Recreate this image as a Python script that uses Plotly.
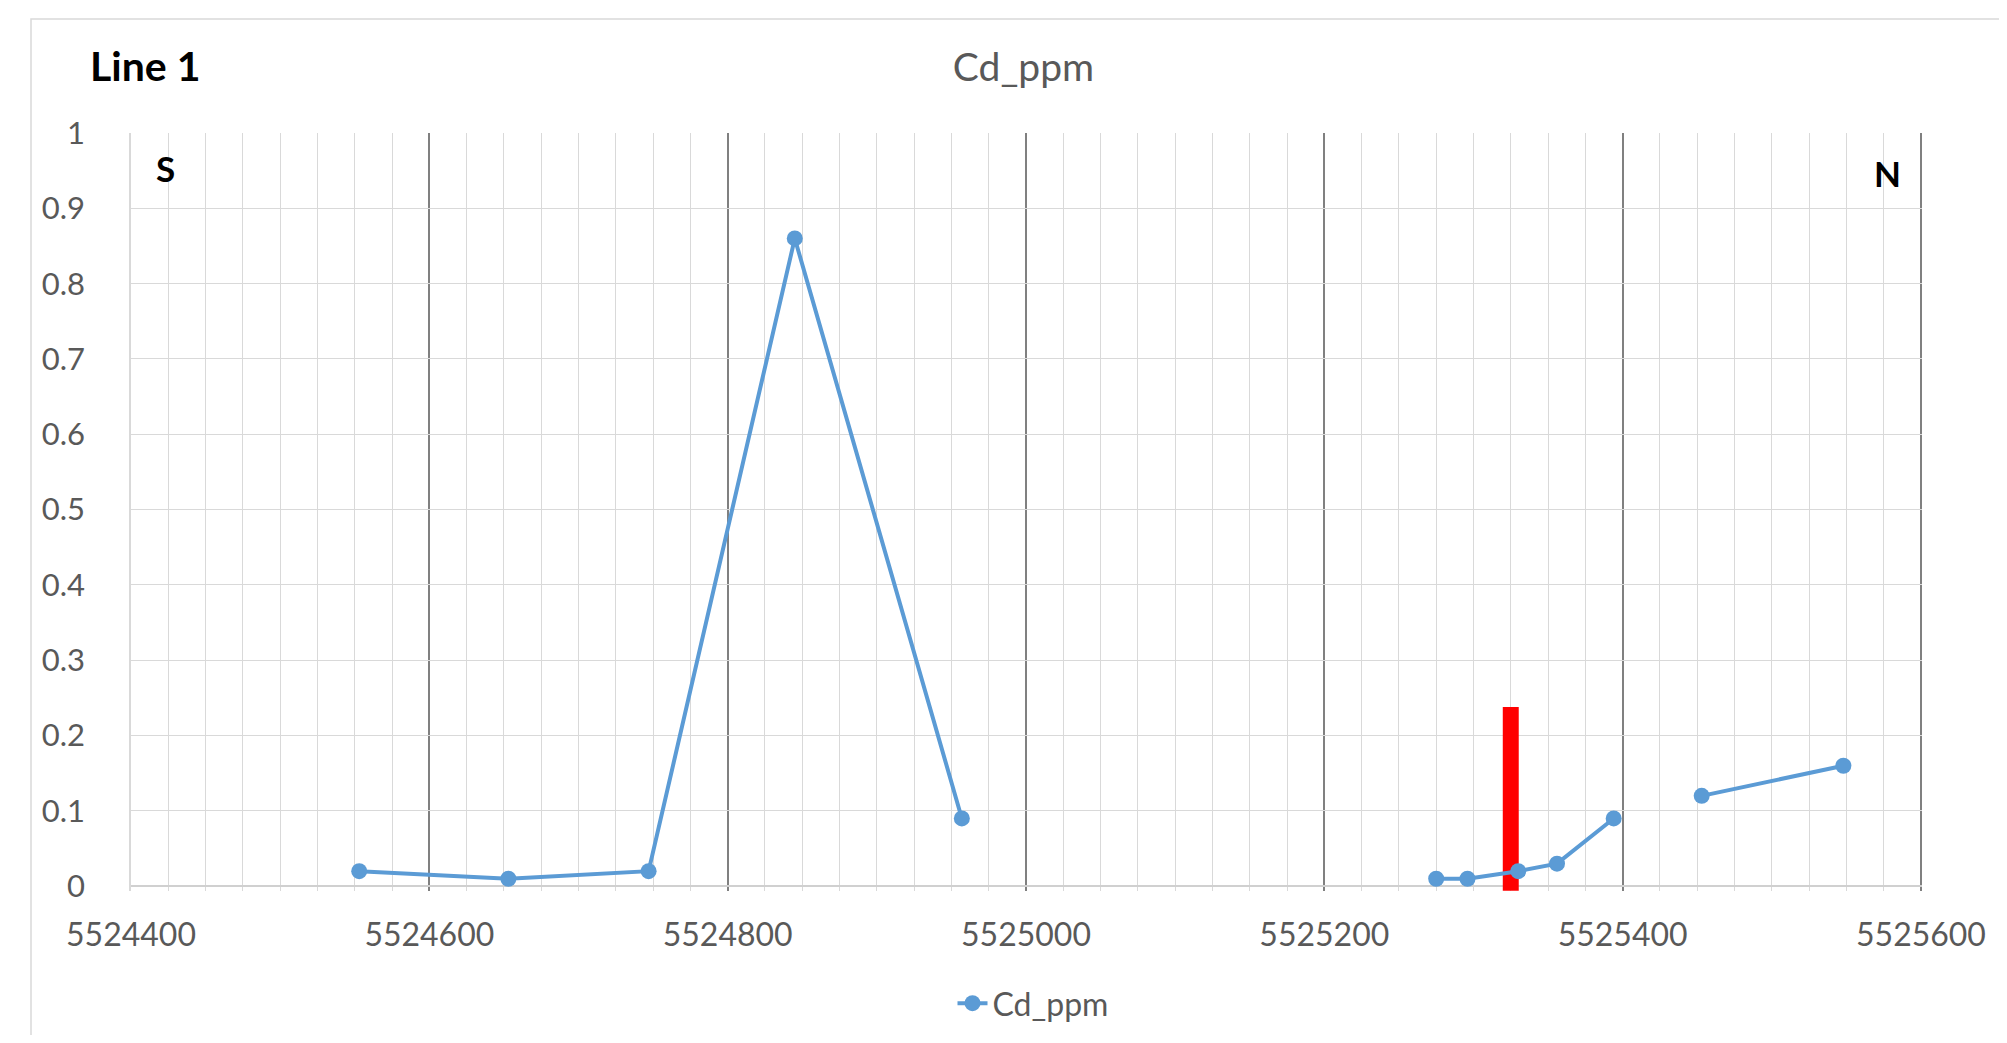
import plotly.graph_objects as go

# Data
northing = [5524553, 5524653, 5524747, 5524845, 5524957, None,
            5525275, 5525296, 5525330, 5525356, 5525394, None,
            5525453, 5525548]
cd_ppm = [0.02, 0.01, 0.02, 0.86, 0.09, None,
          0.01, 0.01, 0.02, 0.03, 0.09, None,
          0.12, 0.16]

marker_x = [5525325]
marker_top = [0.244]
marker_base = [-0.006]
marker_width = 10.7

x_range = [5524400, 5525600.7]
y_range = [-0.0063, 1]

FONT = "Lato"
GREY = "#595959"

# page body has an 8px margin; figure placed at (8, 8)
OFF = 8
W, H = 1991, 1027
L, T = 131 - OFF, 133 - OFF
R = (OFF + W) - 1922
B = (OFF + H) - 890.7
PW = W - L - R
PH = H - T - B

fig = go.Figure()

fig.add_trace(go.Scatter(
    x=northing, y=cd_ppm, mode="lines+markers", name="Cd_ppm",
    line=dict(color="#5B9BD5", width=4),
    marker=dict(color="#5B9BD5", size=16),
    connectgaps=False,
))

fig.add_trace(go.Bar(
    x=marker_x, y=marker_top, base=marker_base, width=marker_width,
    marker=dict(color="#FF0000", line=dict(width=0)),
    showlegend=False, hoverinfo="skip",
))

def px_x(px):
    return (px - 131) / PW

def px_y(py):
    return (890.7 - py) / PH

fig.update_layout(
    width=W, height=H,
    margin=dict(l=L, r=R, t=T, b=B, pad=0, autoexpand=False),
    paper_bgcolor="white", plot_bgcolor="white",
    font=dict(family=FONT, color=GREY),
    title=dict(text="Cd_ppm", x=(1023.5 - OFF) / W, xanchor="center",
               y=1 - (67 - OFF) / H, yanchor="middle",
               font=dict(family=FONT, size=39, color=GREY)),
    showlegend=True,
    legend=dict(orientation="h", x=px_x(1033), xanchor="center",
                y=px_y(1003), yanchor="middle",
                font=dict(family=FONT, size=32, color=GREY),
                bgcolor="rgba(0,0,0,0)"),
    xaxis=dict(
        range=x_range, tick0=5524400, dtick=200,
        showgrid=True, gridcolor="#808080", gridwidth=1.5,
        zeroline=False, showline=False,
        tickformat="d",
        tickfont=dict(family=FONT, size=32, color=GREY),
        ticks="", ticklabelstandoff=22,
        minor=dict(tick0=5524400, dtick=25, showgrid=True,
                   gridcolor="#D9D9D9", gridwidth=1.3),
    ),
    yaxis=dict(
        range=y_range,
        tickvals=[0, 0.1, 0.2, 0.3, 0.4, 0.5, 0.6, 0.7, 0.8, 0.9, 1],
        ticktext=["0", "0.1", "0.2", "0.3", "0.4", "0.5", "0.6", "0.7", "0.8", "0.9", "1"],
        showgrid=True, gridcolor="#D9D9D9", gridwidth=1.3,
        zeroline=True, zerolinecolor="#D0D0D0", zerolinewidth=2,
        showline=True, linecolor="#D9D9D9", linewidth=1.5,
        tickfont=dict(family=FONT, size=31, color=GREY),
        ticks="", ticklabelstandoff=38,
    ),
)

# chart border
fig.add_shape(type="rect", xref="paper", yref="paper",
              x0=px_x(31), x1=1.2, y0=-0.5, y1=px_y(19),
              line=dict(color="#D9D9D9", width=1.5), fillcolor="rgba(0,0,0,0)",
              layer="below")

fig.add_annotation(text="<b>Line 1</b>", xref="paper", yref="paper",
                   x=px_x(88), xanchor="left", y=px_y(66), yanchor="middle",
                   showarrow=False, font=dict(family=FONT, size=41, color="black"))
fig.add_annotation(text="<b>S</b>", xref="paper", yref="paper",
                   x=px_x(154), xanchor="left", y=px_y(168), yanchor="middle",
                   showarrow=False, font=dict(family=FONT, size=35, color="black"))
fig.add_annotation(text="<b>N</b>", xref="paper", yref="paper",
                   x=px_x(1903), xanchor="right", y=px_y(173), yanchor="middle",
                   showarrow=False, font=dict(family=FONT, size=35, color="black"))

fig.write_html("out.html")
